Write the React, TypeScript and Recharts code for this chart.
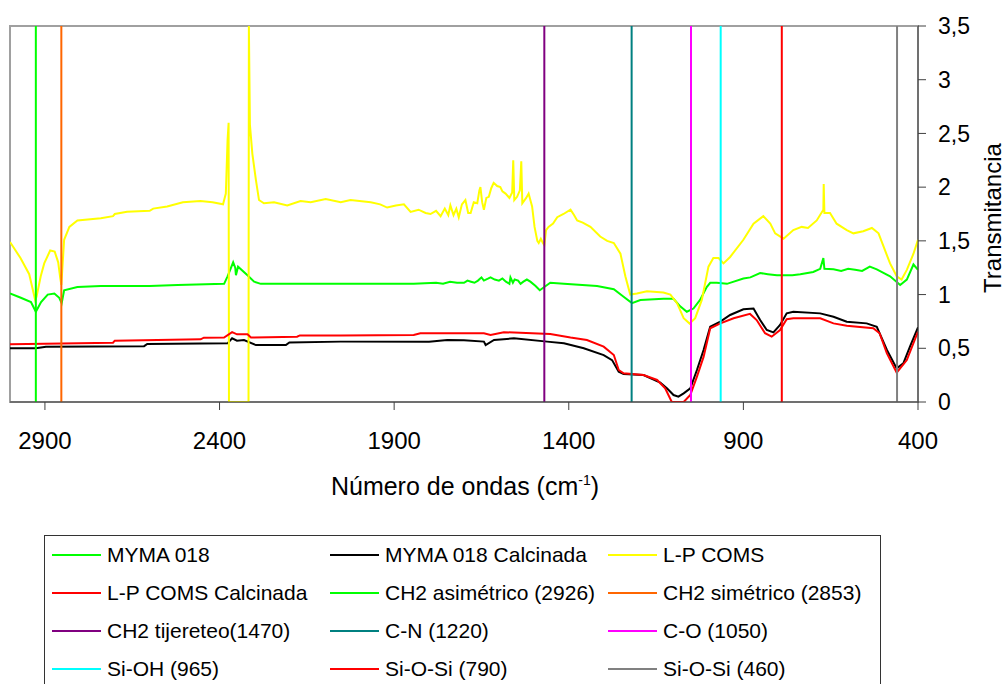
import { LineChart, Line, XAxis, YAxis, ReferenceArea } from 'recharts';

const FONT = 'Arial, "Liberation Sans", sans-serif';

// MYMA 018 (green) — wavenumber (cm-1) / transmitancia
const mymaWn = [
  3000, 2969, 2940, 2926, 2911, 2892, 2873, 2859, 2852, 2845, 2807, 2740, 2600, 2520, 2387, 2377,
  2361, 2355, 2353, 2347, 2320, 2301, 2282, 2053, 1844, 1780, 1760, 1740, 1720, 1700, 1690, 1680,
  1670, 1660, 1650, 1643, 1630, 1624, 1612, 1600, 1590, 1580, 1570, 1567, 1560, 1555, 1545, 1538,
  1530, 1520, 1510, 1495, 1483, 1470, 1453, 1414, 1319, 1271, 1243, 1219, 1195, 1129, 1100, 1081,
  1062, 1043, 1024, 1005, 995, 976, 947, 900, 880, 852, 830, 804, 760, 737, 700, 680,
  671, 668, 642, 620, 600, 580, 560, 538, 518, 480, 451, 432, 413, 400,
];
const mymaT = [
  1.01, 0.97, 0.93, 0.84, 0.93, 1.0, 1.01, 0.97, 0.92, 1.04, 1.07, 1.08, 1.08, 1.09, 1.1, 1.17,
  1.3, 1.25, 1.18, 1.26, 1.18, 1.12, 1.1, 1.1, 1.1, 1.11, 1.1, 1.12, 1.11, 1.11, 1.13, 1.12,
  1.11, 1.13, 1.16, 1.13, 1.15, 1.16, 1.14, 1.13, 1.15, 1.12, 1.1, 1.16, 1.11, 1.14, 1.13, 1.1,
  1.12, 1.14, 1.12, 1.08, 1.04, 1.07, 1.11, 1.1, 1.08, 1.05, 0.98, 0.92, 0.95, 0.96, 0.96, 0.89,
  0.84, 0.87, 0.95, 1.07, 1.11, 1.11, 1.1, 1.15, 1.16, 1.2, 1.19, 1.18, 1.18, 1.19, 1.21, 1.24,
  1.34, 1.24, 1.235, 1.22, 1.24, 1.23, 1.22, 1.26, 1.235, 1.17, 1.09, 1.14, 1.28, 1.23,
];

// MYMA 018 Calcinada (black)
const mymaCalcWn = [
  3000, 2926, 2897, 2616, 2607, 2377, 2364, 2350, 2330, 2296, 2210, 2200, 2053, 1800, 1748, 1700,
  1643, 1638, 1614, 1557, 1462, 1414, 1357, 1300, 1276, 1257, 1243, 1186, 1138, 1119, 1100, 1086,
  1071, 1052, 1033, 1014, 995, 966, 938, 900, 871, 852, 833, 814, 795, 776, 757, 680,
  642, 604, 547, 518, 489, 461, 442, 423, 400,
];
const mymaCalcT = [
  0.5, 0.5, 0.515, 0.52, 0.54, 0.546, 0.593, 0.571, 0.577, 0.53, 0.53, 0.555, 0.562, 0.562, 0.577, 0.575,
  0.562, 0.53, 0.577, 0.593, 0.562, 0.546, 0.5, 0.437, 0.39, 0.282, 0.26, 0.251, 0.18, 0.127, 0.065, 0.05,
  0.08, 0.127, 0.298, 0.484, 0.7, 0.748, 0.81, 0.863, 0.87, 0.763, 0.67, 0.648, 0.717, 0.825, 0.84, 0.825,
  0.794, 0.748, 0.732, 0.7, 0.484, 0.313, 0.36, 0.515, 0.695,
];

// L-P COMS (yellow); the CO2 region runs off the plot at both ends
const lpWn = [
  3000, 2970, 2945, 2935, 2928, 2924, 2912, 2902, 2885, 2872, 2862, 2856, 2853, 2849, 2845, 2830,
  2807, 2740, 2705, 2700, 2665, 2600, 2590, 2550, 2505, 2455, 2420, 2390, 2382, 2377, 2374, 2373,
  2317, 2316, 2313, 2306, 2296, 2287, 2273, 2244, 2206, 2168, 2139, 2096, 2053, 2025, 1967, 1940,
  1920, 1895, 1872, 1853, 1830, 1810, 1796, 1780, 1767, 1755, 1745, 1739, 1730, 1722, 1715, 1706,
  1696, 1688, 1681, 1672, 1662, 1656, 1653, 1648, 1643, 1636, 1629, 1622, 1615, 1605, 1596, 1590,
  1581, 1570, 1562, 1559, 1556, 1548, 1540, 1536, 1533, 1522, 1515, 1505, 1498, 1490, 1486, 1480,
  1474, 1470, 1465, 1458, 1445, 1433, 1415, 1395, 1385, 1376, 1360, 1338, 1310, 1290, 1271, 1252,
  1238, 1224, 1205, 1176, 1129, 1109, 1090, 1071, 1054, 1038, 1019, 1000, 986, 971, 957, 938,
  900, 871, 843, 823, 809, 785, 757, 733, 715, 690, 671, 670, 668, 652, 633, 604,
  585, 557, 532, 513, 499, 480, 461, 447, 432, 413, 400,
];
const lpT = [
  1.49, 1.34, 1.19, 1.05, 0.95, 0.98, 1.17, 1.29, 1.41, 1.4, 1.3, 1.15, 1.09, 1.3, 1.51, 1.63,
  1.69, 1.71, 1.73, 1.75, 1.77, 1.78, 1.8, 1.82, 1.86, 1.87, 1.86, 1.84, 1.94, 2.44, 2.6, 0,
  0, 3.5, 2.58, 2.31, 2.07, 1.88, 1.85, 1.86, 1.83, 1.87, 1.86, 1.89, 1.86, 1.88, 1.86, 1.84,
  1.81, 1.83, 1.84, 1.77, 1.79, 1.76, 1.75, 1.78, 1.73, 1.8, 1.74, 1.83, 1.74, 1.8, 1.72, 1.84,
  1.88, 1.76, 1.76, 1.86, 1.85, 1.97, 2.0, 1.86, 1.79, 1.9, 1.91, 1.99, 2.04, 2.01, 2.0, 1.96,
  1.94, 1.9, 1.95, 2.25, 1.88, 1.91, 1.97, 2.24, 1.85, 1.9, 1.94, 1.82, 1.63, 1.5, 1.48, 1.52,
  1.48, 1.46, 1.6, 1.63, 1.66, 1.72, 1.75, 1.79, 1.74, 1.69, 1.67, 1.63, 1.54, 1.5, 1.48, 1.38,
  1.17, 1.0, 1.01, 1.03, 1.02, 1.0, 0.92, 0.78, 0.73, 0.78, 0.95, 1.26, 1.34, 1.34, 1.29, 1.35,
  1.51, 1.66, 1.73, 1.66, 1.57, 1.52, 1.6, 1.63, 1.62, 1.69, 1.79, 2.03, 1.76, 1.76, 1.66, 1.6,
  1.57, 1.59, 1.62, 1.57, 1.45, 1.29, 1.17, 1.14, 1.23, 1.38, 1.51,
];

// L-P COMS Calcinada (red)
const lpCalcWn = [
  3000, 2705, 2700, 2454, 2445, 2387, 2364, 2350, 2320, 2310, 2178, 2170, 2053, 1844, 1825, 1643,
  1624, 1586, 1453, 1395, 1348, 1300, 1271, 1257, 1243, 1186, 1147, 1124, 1105, 1071, 1052, 1033,
  1014, 995, 966, 928, 881, 862, 838, 819, 795, 776, 757, 680, 642, 604, 528, 510,
  489, 461, 432, 400,
];
const lpCalcT = [
  0.537, 0.552, 0.571, 0.583, 0.599, 0.6, 0.65, 0.63, 0.63, 0.6, 0.608, 0.62, 0.62, 0.624, 0.64, 0.64,
  0.624, 0.65, 0.633, 0.6, 0.577, 0.515, 0.437, 0.298, 0.267, 0.251, 0.205, 0.127, 0, 0, 0.065, 0.236,
  0.42, 0.686, 0.732, 0.779, 0.82, 0.763, 0.64, 0.608, 0.67, 0.77, 0.779, 0.779, 0.732, 0.71, 0.686, 0.64,
  0.453, 0.273, 0.39, 0.655,
];

// band markers
const bandWn = [2926, 2853, 1470, 1220, 1050, 965, 790, 460];
const bandNames = [
  'CH2 asimétrico (2926)', 'CH2 simétrico (2853)', 'CH2 tijereteo(1470)', 'C-N (1220)',
  'C-O (1050)', 'Si-OH (965)', 'Si-O-Si (790)', 'Si-O-Si (460)',
];
const bandColors = ['#00FF00', '#FF6600', '#800080', '#008080', '#FF00FF', '#00FFFF', '#FF0000', '#808080'];
const bandSpan = [0, 3.5];

const xTicks = [2900, 2400, 1900, 1400, 900, 400];
const yTicks = [0, 0.5, 1, 1.5, 2, 2.5, 3, 3.5];

const zip = (xs: number[], ys: number[]) => xs.map((x, i) => ({ x, y: ys[i] }));

const series = [
  { name: 'MYMA 018', color: '#00FF00', data: zip(mymaWn, mymaT) },
  { name: 'MYMA 018 Calcinada', color: '#000000', data: zip(mymaCalcWn, mymaCalcT) },
  { name: 'L-P COMS', color: '#FFFF00', data: zip(lpWn, lpT) },
  { name: 'L-P COMS Calcinada', color: '#FF0000', data: zip(lpCalcWn, lpCalcT) },
  ...bandWn.map((w, i) => ({
    name: bandNames[i],
    color: bandColors[i],
    data: bandSpan.map((y) => ({ x: w, y })),
  })),
];

type Box = { x: number; y: number; width: number; height: number };

function XLabel({ viewBox }: { viewBox?: Box }) {
  const vb = viewBox && viewBox.width ? viewBox : { x: 10, y: 402, width: 908, height: 100 };
  const cx = vb.x + vb.width / 2 + 1;
  return (
    <text x={cx} y={vb.y + 93} textAnchor="middle" fontSize={25} fontFamily={FONT} fill="#000">
      Número de ondas (cm<tspan dy={-10} fontSize={14}>-1</tspan>
      <tspan dy={10}>)</tspan>
    </text>
  );
}

function YLabel({ viewBox }: { viewBox?: Box }) {
  const vb = viewBox && viewBox.height ? viewBox : { x: 918, y: 26, width: 89, height: 376 };
  const cx = vb.x + 83;
  const cy = vb.y + vb.height / 2 + 4;
  return (
    <text
      x={cx}
      y={cy}
      transform={`rotate(-90 ${cx} ${cy})`}
      textAnchor="middle"
      fontSize={24}
      fontFamily={FONT}
      fill="#000"
    >
      Transmitancia
    </text>
  );
}

export default function App() {
  return (
    <div
      style={{
        position: 'absolute',
        left: 0,
        top: 0,
        width: 1007,
        height: 684,
        overflow: 'hidden',
        background: '#fff',
        fontFamily: FONT,
      }}
    >
      <LineChart width={1007} height={684} margin={{ top: 26, right: 0, bottom: 182, left: 10 }}>
        <ReferenceArea x1={3000} x2={400} y1={0} y2={3.5} fill="none" stroke="#a0a0a0" strokeWidth={2} />
        <XAxis
          type="number"
          dataKey="x"
          domain={[400, 3000]}
          reversed
          allowDataOverflow
          ticks={xTicks}
          interval={0}
          height={100}
          tickSize={8}
          tickMargin={22}
          stroke="#404040"
          tick={{ fontSize: 24, fill: '#000', fontFamily: FONT }}
          label={<XLabel />}
        />
        <YAxis
          orientation="right"
          type="number"
          domain={[0, 3.5]}
          allowDataOverflow
          ticks={yTicks}
          interval={0}
          width={89}
          tickSize={8}
          tickMargin={12}
          stroke="#404040"
          tick={{ fontSize: 23, fill: '#000', fontFamily: FONT }}
          tickFormatter={(v: number) => String(v).replace('.', ',')}
          label={<YLabel />}
        />
        {series.map((s) => (
          <Line
            key={s.name}
            name={s.name}
            data={s.data}
            dataKey="y"
            type="linear"
            stroke={s.color}
            strokeWidth={2}
            dot={false}
            activeDot={false}
            isAnimationActive={false}
          />
        ))}
      </LineChart>

      {/* legend box, Excel style, cut by the bottom of the page */}
      <div
        style={{
          position: 'absolute',
          left: 44,
          top: 535,
          width: 837,
          height: 170,
          border: '1px solid #333',
          boxSizing: 'border-box',
          paddingLeft: 7,
          display: 'grid',
          gridTemplateColumns: '278px 278px 270px',
          gridAutoRows: '38px',
          fontSize: 21,
          color: '#000',
        }}
      >
        {series.map((s) => (
          <div key={s.name} style={{ display: 'flex', alignItems: 'center', whiteSpace: 'nowrap' }}>
            <span style={{ width: 49, height: 2, background: s.color, marginRight: 6, flex: 'none' }} />
            <span>{s.name}</span>
          </div>
        ))}
      </div>
    </div>
  );
}
